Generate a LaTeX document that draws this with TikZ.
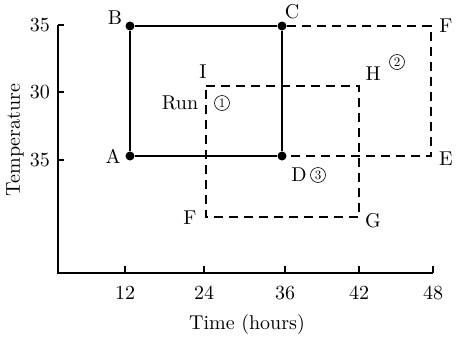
\documentclass[tikz,border=0pt]{standalone}
\usetikzlibrary{positioning}
\font\labfont="[lmroman10-regular.otf]" at 20pt
\font\runfont="[lmroman10-regular.otf]" at 13pt

\begin{document}
\begin{tikzpicture}[x=1pt, y=-1pt, line width=1.5pt,
    every node/.style={font=\labfont},
    dot/.style={circle, fill, inner sep=0pt, minimum size=9pt},
    corner/.style={inner sep=0pt, minimum size=0pt},
    run/.style={circle, draw, line width=0.6pt, inner sep=0pt, minimum size=15pt, font=\runfont},
    trial/.style={dash pattern=on 9pt off 6pt}]
    \useasboundingbox (0,0) rectangle (456,338);

    % axes
    \coordinate (O) at (58,273);
    \coordinate (Ytop) at (58,25);
    \coordinate (Xend) at (433,273);
    \draw (Ytop) -- (O) -- (Xend);
    \foreach \y/\t in {25/35, 92/30, 160/35} {
        \draw (58,\y) -- (64,\y);
        \node[anchor=east] at (54,\y) {\t};
    }
    \foreach \x/\t in {125/12, 204/24, 285/36, 359/42, 433/48} {
        \draw (\x,273) -- (\x,266);
        \node at (\x,293) {\t};
    }
    \node[rotate=90] (ylab) at (15,140) {Temperature};
    \node (xlab) at (247,324) {Time (hours)};

    % base run
    \node[dot] (A) at (130,156) {};
    \node[dot] (B) at (130,26) {};
    \node[dot] (C) at (282,26) {};
    \node[dot] (D) at (282,156) {};
    \draw (A) -- (B) -- (C) -- (D) -- (A);

    % second run
    \node[corner] (F) at (431,26) {};
    \node[corner] (E) at (431,156) {};
    \draw[trial] (C) -- (F.center) -- (E.center) -- (D);

    % third run
    \node[corner] (I) at (206,86) {};
    \node[corner] (H) at (359,86) {};
    \node[corner] (G) at (359,217) {};
    \node[corner] (F1) at (206,217) {};
    \draw[trial] (I.center) -- (H.center) -- (G.center) -- (F1.center) -- cycle;

    % labels
    \node (lA) at (113,156) {A};
    \node (lB) at (115,18) {B};
    \node (lC) at (292,12) {C};
    \node (lD) at (299,175) {D};
    \node[run] (r3) at (318,175) {3};
    \node (lE) at (446,159) {E};
    \node (lF) at (446,26) {F};
    \node (lI) at (203,72) {I};
    \node (lH) at (373,74) {H};
    \node[run] (r2) at (397,62) {2};
    \node (lG) at (373,221) {G};
    \node (lF1) at (190,218) {F};
    \node (run) at (180,103) {Run};
    \node[run] (r1) at (222,103) {1};
\end{tikzpicture}
\end{document}
